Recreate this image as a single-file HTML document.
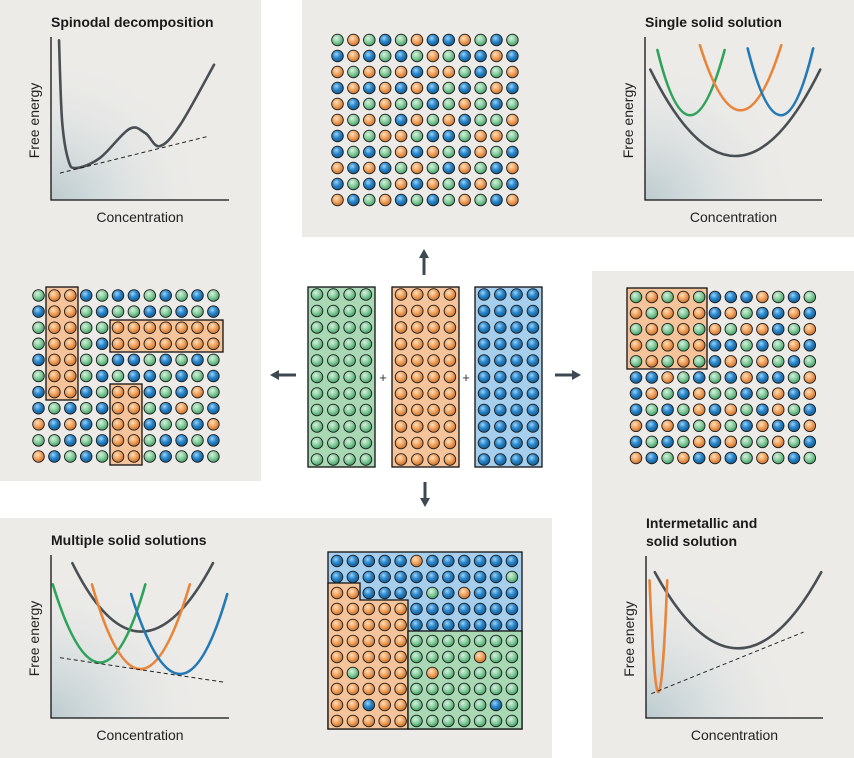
<!DOCTYPE html>
<html><head><meta charset="utf-8">
<style>
html,body{margin:0;padding:0;background:#fff;}
body{width:854px;height:758px;position:relative;overflow:hidden;font-family:"Liberation Sans",sans-serif;}
svg{position:absolute;left:0;top:0;}
</style></head>
<body>
<svg id="fig" width="854" height="758" viewBox="0 0 854 758" xmlns="http://www.w3.org/2000/svg">
<defs>
<radialGradient id="gG" cx="40%" cy="35%" r="65%"><stop offset="0" stop-color="#d6f0dd"/><stop offset="0.5" stop-color="#8fd0a4"/><stop offset="1" stop-color="#3f9e63"/></radialGradient>
<radialGradient id="gO" cx="40%" cy="35%" r="65%"><stop offset="0" stop-color="#fde0c0"/><stop offset="0.5" stop-color="#f3a764"/><stop offset="1" stop-color="#c8702a"/></radialGradient>
<radialGradient id="gB" cx="40%" cy="35%" r="65%"><stop offset="0" stop-color="#9fd2f5"/><stop offset="0.5" stop-color="#2b88cc"/><stop offset="1" stop-color="#105a92"/></radialGradient>
<radialGradient id="shade" cx="0%" cy="100%" r="90%"><stop offset="0" stop-color="#bccbcf"/><stop offset="0.6" stop-color="#dfe3e3" stop-opacity="0.6"/><stop offset="1" stop-color="#ecebe8" stop-opacity="0"/></radialGradient>
</defs>
<g>
<rect x="0" y="0" width="261" height="481" fill="#ecebe8"/>
<rect x="302" y="0" width="552" height="237" fill="#ecebe8"/>
<rect x="592" y="271" width="262" height="487" fill="#ecebe8"/>
<rect x="0" y="518" width="552" height="240" fill="#ecebe8"/>
</g>
<g id="charts"></g>
<g id="grids"></g>
<g stroke="#3d4850" stroke-width="3" fill="#3d4850">
<line x1="424" y1="275" x2="424" y2="256"/><polygon points="424,249 419,258 429,258" stroke="none"/>
<line x1="425" y1="482" x2="425" y2="500"/><polygon points="425,507 420,498 430,498" stroke="none"/>
<line x1="296" y1="375" x2="277" y2="375"/><polygon points="270,375 279,370 279,380" stroke="none"/>
<line x1="555" y1="375" x2="574" y2="375"/><polygon points="581,375 572,370 572,380" stroke="none"/>
</g>
<text x="383" y="382" font-size="13" fill="#333" text-anchor="middle">+</text>
<text x="466" y="382" font-size="13" fill="#333" text-anchor="middle">+</text>
</svg>
<script>
// ---------- chart data ----------
const spinX = [4.5, 6.2, 9.6, 14, 27.5, 44, 53, 61, 72.5, 91.6];
const spinY = [98, 49, 25, 19.6, 25.8, 43.6, 41, 33, 46, 83];
const spinTangentX = [5, 88];
const spinTangentY = [16.5, 39];

// parabolas: [leftX, vertexX, rightX], [endY, vertexY]
const singleParX = [[3, 51, 99],[7, 25, 45],[31, 54, 77],[58, 77, 95]];
const singleParY = [[80, 27],[92, 52],[95, 55],[93, 52]];
const singleColors = ["#4a4f54","#2fa35a","#e8853a","#2479b5"];

const multiParX = [[12, 50, 91],[1, 28, 53],[23, 50, 78],[45, 73, 99]];
const multiParY = [[95, 53],[82, 34],[82, 30],[76, 27]];
const multiColors = ["#4a4f54","#2fa35a","#e8853a","#2479b5"];
const multiTangentX = [5, 97];
const multiTangentY = [37, 22];

const interParX = [[5, 52, 99],[2, 7, 12]];
const interParY = [[90, 43],[85, 16]];
const interColors = ["#4a4f54","#e8853a"];
const interTangentX = [3, 89];
const interTangentY = [15, 53];

const NS = "http://www.w3.org/2000/svg";
function mk(tag, attrs, parent){const e=document.createElementNS(NS,tag);for(const k in attrs)e.setAttribute(k,attrs[k]);parent.appendChild(e);return e;}

function axes(ax){
  return {sx:v=>ax.x0+(ax.x1-ax.x0)*v/100, sy:v=>ax.y0-(ax.y0-ax.y1)*v/100};
}
function drawFrame(g, ax, title, titleY){
  const bg = mk('rect',{x:ax.x0,y:ax.y1,width:ax.x1-ax.x0,height:ax.y0-ax.y1,fill:'url(#shade)'},g);
  
  
  const p = mk('path',{d:`M${ax.x0} ${ax.y1} V${ax.y0} H${ax.x1}`,stroke:'#111',fill:'none','stroke-width':1.3},g);
  
  
  title.forEach((t,i)=>{
    const te = mk('text',{x:ax.x0,y:titleY+i*18,'font-size':14,'font-weight':'bold',fill:'#1a1a1a'},g);
    te.textContent=t;
    
    
  });
  const xl = mk('text',{x:(ax.x0+ax.x1)/2,y:ax.y0+22,'font-size':14,fill:'#222','text-anchor':'middle'},g);
  xl.textContent='Concentration';
  
  
  const cy=(ax.y0+ax.y1)/2+2, cx=ax.x0-12;
  const yl = mk('text',{x:cx,y:cy,'font-size':14,fill:'#222','text-anchor':'middle',transform:`rotate(-90 ${cx} ${cy})`},g);
  yl.textContent='Free energy';
  
  
}
function drawParabolas(g, s, xs, ys, cols){
  xs.forEach((x,i)=>{
    const x0=s.sx(x[0]),xc=s.sx(x[1]),x1=s.sx(x[2]),ye=s.sy(ys[i][0]),ym=s.sy(ys[i][1]);
    const p = mk('path',{d:`M${x0} ${ye} Q${xc} ${2*ym-ye} ${x1} ${ye}`,stroke:cols[i],fill:'none','stroke-width':2.6,'stroke-linecap':'round'},g);
    
    
  });
}
function drawTangent(g,s,tx,ty){
  const l = mk('line',{x1:s.sx(tx[0]),y1:s.sy(ty[0]),x2:s.sx(tx[1]),y2:s.sy(ty[1]),stroke:'#222','stroke-width':1,'stroke-dasharray':'4 3'},g);
  
  
}
const charts=document.getElementById('charts');

{
  const ax={x0:51,x1:229,y0:200,y1:37};const s=axes(ax);
  const g=mk('g',{},charts);
  
  
  drawFrame(g,ax,['Spinodal decomposition'],27);
  const pts=spinX.map((x,i)=>[s.sx(x),s.sy(spinY[i])]);
  let d=`M${pts[0][0]} ${pts[0][1]}`;
  for(let i=0;i<pts.length-1;i++){
    const p0=pts[Math.max(0,i-1)],p1=pts[i],p2=pts[i+1],p3=pts[Math.min(pts.length-1,i+2)];
    d+=` C${p1[0]+(p2[0]-p0[0])/6} ${p1[1]+(p2[1]-p0[1])/6} ${p2[0]-(p3[0]-p1[0])/6} ${p2[1]-(p3[1]-p1[1])/6} ${p2[0]} ${p2[1]}`;
  }
  const c=mk('path',{d,stroke:'#4a4f54',fill:'none','stroke-width':2.6,'stroke-linecap':'round'},g);
  
  
  drawTangent(g,s,spinTangentX,spinTangentY);
}
{
  const ax={x0:645,x1:822,y0:200,y1:37};const s=axes(ax);
  const g=mk('g',{},charts);
  
  
  drawFrame(g,ax,['Single solid solution'],27);
  drawParabolas(g,s,singleParX,singleParY,singleColors);
}
{
  const ax={x0:51,x1:229,y0:718,y1:555};const s=axes(ax);
  const g=mk('g',{},charts);
  
  
  drawFrame(g,ax,['Multiple solid solutions'],545);
  drawParabolas(g,s,multiParX,multiParY,multiColors);
  drawTangent(g,s,multiTangentX,multiTangentY);
}
{
  const ax={x0:646,x1:823,y0:718,y1:556};const s=axes(ax);
  const g=mk('g',{},charts);
  
  
  drawFrame(g,ax,['Intermetallic and','solid solution'],528);
  drawParabolas(g,s,interParX,interParY,interColors);
  drawTangent(g,s,interTangentX,interTangentY);
}

// ---------- atom grids ----------
const topGrid=["GOGBGOBBOGBG","BOBGBGOGBBOB","OGOGOBOOGBGO","BOBOBOBGBGOB","OBGOGGBGOGBG","OGOGBOGOBGGO","BOGOOGBBGOOG","BGBGOBOGBOGB","OBOBGOGBOGBO","BGBGOBOGBOGB","OBGOBGBGOGBO"];
const leftGrid=["GOOBGBBGBGBG","BOOGBGGBGBGB","GOOGGOOOOOOO","GOOGBOOOOOOO","BOOGGBBGBGBG","GOOGBGBBGBGB","BOOBGOOBGBOG","BGBGBOOGBOGB","OBOBGOOBGGBO","GGBGBOOGBBGB","OBGBGOOGBGBG"];
const rightGrid=["GOGOGBBBOGBG","OGOGOBOGBBOB","GOGOGOGOOBGO","OGOGOBBGBGOB","GOGOGBOGOGBG","BBOGBGBOBBGO","BOGBOGGBGOBO","BGBGOBOGBOGB","OBOBGOGBOBBO","BGBGOBOGGOGB","OBGOBOBGOGBG"];
const bottomGrid=["BBBBBOBBBBBB","BBBBBBBBBBBG","OOBBBBGBOBBB","OOOOOBBBBBBB","OOOOOBBBBBBB","OOOOOGGGGGGG","OOOOOGGGGOGG","OGOOOGOGGGGG","OOOOOGGGGGGG","OOBOOGGGGGBG","OOOOOGGGGGGG"];
const pureCols=["G","O","B"];

const R=5.8;
const grids=document.getElementById('grids');
const fillFor={G:'url(#gG)',O:'url(#gO)',B:'url(#gB)'};
const nameFor={G:'green-atom',O:'orange-atom',B:'blue-atom'};
function region(g,attrs,name){
  const e=mk(attrs.d?'path':'rect',Object.assign({stroke:'#111','stroke-width':1.3},attrs),g);
  
  
}
function drawGrid(rows,x0,y0,dx,dy,name){
  const g=mk('g',{},grids);
  
  
  rows.forEach((r,ri)=>{[...r].forEach((ch,ci)=>{
    const c=mk('circle',{cx:x0+ci*dx,cy:y0+ri*dy,r:R,fill:fillFor[ch],stroke:'#1c1c1c','stroke-width':0.9},g);
    
    
  });});
  return g;
}
{
  const bg=mk('g',{},grids);
  region(bg,{x:46,y:287,width:32,height:113,fill:'#f5c49a'},'ordered-cluster-1');
  region(bg,{x:110,y:320,width:113,height:32,fill:'#f5c49a'},'ordered-cluster-2');
  region(bg,{x:110,y:384,width:32,height:81,fill:'#f5c49a'},'ordered-cluster-3');
  drawGrid(leftGrid,38.5,295.5,15.9,16.1,'spinodal-atom-grid');
}
drawGrid(topGrid,337.5,40,15.9,16,'single-solution-atom-grid');
{
  const bg=mk('g',{},grids);
  region(bg,{x:627,y:288,width:80,height:81,fill:'#f5c49a'},'intermetallic-cluster');
  drawGrid(rightGrid,636,297,15.8,16.1,'intermetallic-atom-grid');
}
{
  const bg=mk('g',{},grids);
  region(bg,{x:328,y:552,width:194,height:177,fill:'#a6cfee'},'blue-phase-region');
  region(bg,{d:'M328 583 H360 V600 H408 V729 H328 Z',fill:'#f5c49a'},'orange-phase-region');
  region(bg,{x:408,y:631,width:114,height:98,fill:'#a9d8b4'},'green-phase-region');
  drawGrid(bottomGrid,337,561,15.9,16,'multiple-solutions-atom-grid');
}
{
  const boxFill=['#a9d8b4','#f5c49a','#a6cfee'];
  const boxX=[308,392,475];
  const boxNames=['green-element-block','orange-element-block','blue-element-block'];
  pureCols.forEach((ch,i)=>{
    const g=mk('g',{},grids);
    
    
    region(g,{x:boxX[i],y:287,width:67,height:180,fill:boxFill[i]},boxNames[i]+'-frame');
    for(let r=0;r<11;r++)for(let c=0;c<4;c++){
      const e=mk('circle',{cx:boxX[i]+9+c*16.3,cy:294.5+r*16.5,r:R,fill:fillFor[ch],stroke:'#1c1c1c','stroke-width':0.9},g);
      
      
    }
  });
}
</script>
</body></html>
